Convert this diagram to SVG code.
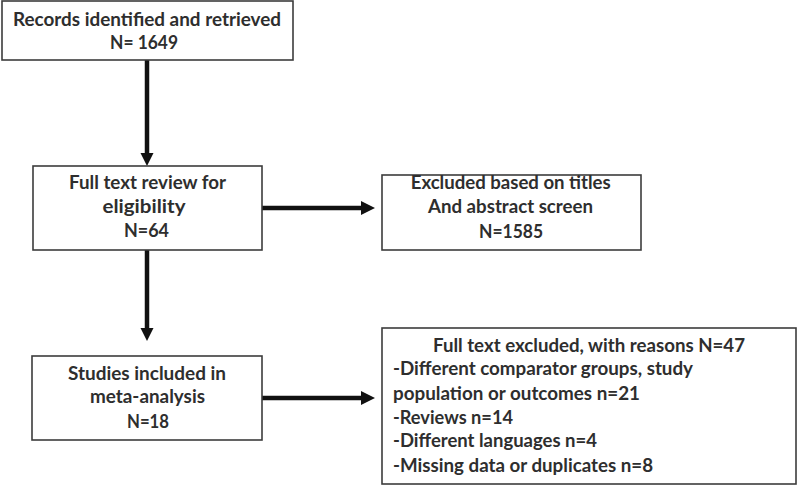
<svg xmlns="http://www.w3.org/2000/svg" width="798" height="486" viewBox="0 0 798 486">
<style>
.box{fill:#fff;stroke:#3c3c3c;stroke-width:1.6}
.t{font-family:Lato,"Open Sans","Liberation Sans",sans-serif;font-weight:bold;font-size:19px;fill:#2e2e2e}
.c{text-anchor:middle}
.line{stroke:#111;stroke-width:4.5;fill:none}
.head{fill:#111}
</style>
<rect width="798" height="486" fill="#fff"/>
<g id="connectors">
<line class="line" x1="147" y1="60" x2="147" y2="154"/>
<polygon class="head" points="140.5,153 153.5,153 147,166"/>
<line class="line" x1="147" y1="250" x2="147" y2="329"/>
<polygon class="head" points="140.5,328 153.5,328 147,341"/>
<line class="line" x1="262" y1="208" x2="362" y2="208"/>
<polygon class="head" points="361,201 361,215 375,208"/>
<line class="line" x1="262" y1="398" x2="362" y2="398"/>
<polygon class="head" points="361,391 361,405 375,398"/>
</g>
<g id="records">
<rect class="box" x="2" y="1" width="291" height="59"/>
<text class="t c" x="147" y="26" textLength="268" lengthAdjust="spacingAndGlyphs">Records identified and retrieved</text>
<text class="t c" x="144" y="49" textLength="68" lengthAdjust="spacingAndGlyphs">N= 1649</text>
</g>
<g id="fulltext">
<rect class="box" x="33" y="166" width="229" height="84"/>
<text class="t c" x="147.5" y="189" textLength="157" lengthAdjust="spacingAndGlyphs">Full text review for</text>
<text class="t c" x="144" y="213" textLength="83" lengthAdjust="spacingAndGlyphs">eligibility</text>
<text class="t c" x="146.5" y="237" textLength="45" lengthAdjust="spacingAndGlyphs">N=64</text>
</g>
<g id="excluded">
<rect class="box" x="382" y="175" width="259" height="75"/>
<text class="t c" x="510.7" y="189" textLength="200" lengthAdjust="spacingAndGlyphs">Excluded based on titles</text>
<text class="t c" x="510.5" y="213" textLength="165" lengthAdjust="spacingAndGlyphs">And abstract screen</text>
<text class="t c" x="511" y="238" textLength="64" lengthAdjust="spacingAndGlyphs">N=1585</text>
</g>
<g id="included">
<rect class="box" x="32" y="356" width="230" height="84"/>
<text class="t c" x="147" y="380" textLength="158" lengthAdjust="spacingAndGlyphs">Studies included in</text>
<text class="t c" x="147.5" y="403" textLength="115" lengthAdjust="spacingAndGlyphs">meta-analysis</text>
<text class="t c" x="148" y="428" textLength="42" lengthAdjust="spacingAndGlyphs">N=18</text>
</g>
<g id="reasons">
<rect class="box" x="382" y="328" width="414" height="156"/>
<text class="t c" x="589" y="352" textLength="312" lengthAdjust="spacingAndGlyphs">Full text excluded, with reasons N=47</text>
<text class="t" x="393" y="375" textLength="300" lengthAdjust="spacingAndGlyphs">-Different comparator groups, study</text>
<text class="t" x="393" y="400" textLength="247" lengthAdjust="spacingAndGlyphs">population or outcomes n=21</text>
<text class="t" x="393" y="424" textLength="120" lengthAdjust="spacingAndGlyphs">-Reviews n=14</text>
<text class="t" x="393" y="447" textLength="204" lengthAdjust="spacingAndGlyphs">-Different languages n=4</text>
<text class="t" x="393" y="472" textLength="260" lengthAdjust="spacingAndGlyphs">-Missing data or duplicates n=8</text>
</g>
</svg>
